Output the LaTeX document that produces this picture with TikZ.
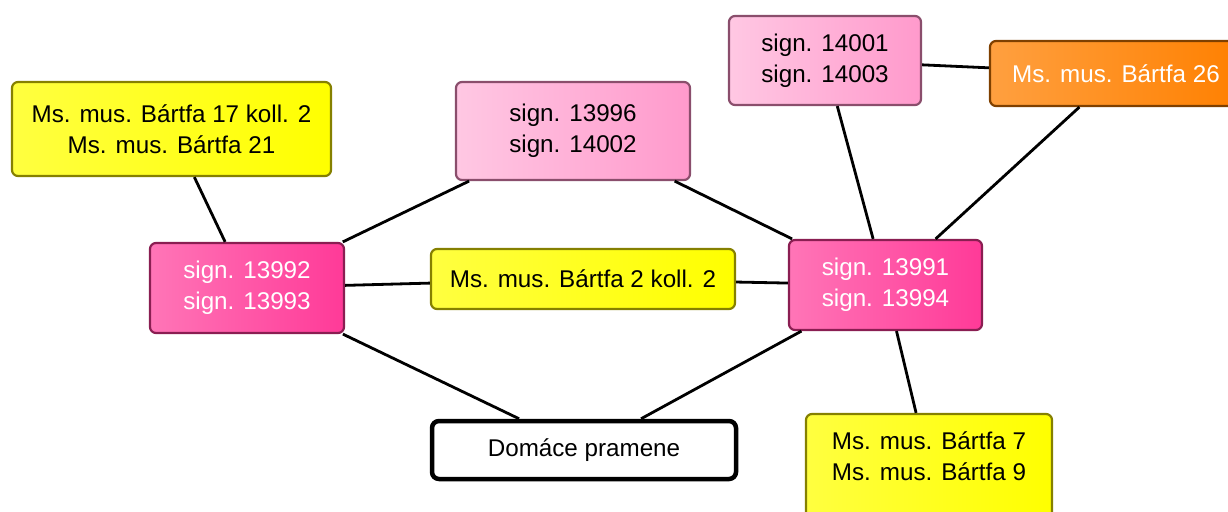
\documentclass[tikz,border=0pt]{standalone}
\usepackage{fontspec}
\setmainfont{Liberation Sans}
\definecolor{yelfill}{HTML}{FFFF00}
\definecolor{yelline}{HTML}{858000}
\definecolor{rosefill}{HTML}{FF9ACC}
\definecolor{roseline}{HTML}{8A4E6C}
\definecolor{hotfill}{HTML}{FF3A98}
\definecolor{hotline}{HTML}{8A1E52}
\definecolor{orfill}{HTML}{FF8000}
\definecolor{orline}{HTML}{7F4000}
\begin{document}
\begin{tikzpicture}[x=1pt, y=-1pt,
    box/.style={rectangle, rounded corners=6pt, align=center, line width=2.2pt,
       inner sep=0pt, font=\fontsize{24.2}{31}\selectfont},
    yelbox/.style={box, draw=yelline, left color=yelfill!75!white, right color=yelfill},
    rosebox/.style={box, draw=roseline, left color=rosefill!55!white, right color=rosefill},
    hotbox/.style={box, draw=hotline, left color=hotfill!70!white, right color=hotfill, text=white},
    orbox/.style={box, draw=orline, left color=orfill!75!white, right color=orfill, text=white},
    homebox/.style={box, draw=black, fill=white, line width=4.5pt, rounded corners=7pt},
    link/.style={line width=2.8pt, black}]
    \useasboundingbox (0,0) rectangle (1228,511);

    % Uzly
    \node[yelbox, minimum width=319pt, minimum height=94pt] (b17) at (171.5,129)
       {Ms. mus. Bártfa 17 koll. 2\\Ms. mus. Bártfa 21};
    \node[rosebox, minimum width=234pt, minimum height=98pt] (s13996) at (573,131)
       {sign. 13996\\sign. 14002};
    \node[rosebox, minimum width=192pt, minimum height=89pt] (s14001) at (825,60.5)
       {sign. 14001\\sign. 14003};
    \node[orbox, minimum width=252pt, minimum height=65pt] (b26) at (1116,73.5)
       {Ms. mus. Bártfa 26};
    \node[hotbox, minimum width=194pt, minimum height=90pt] (s13992) at (247,288)
       {sign. 13992\\sign. 13993};
    \node[yelbox, minimum width=304pt, minimum height=60pt] (b2) at (583,279)
       {Ms. mus. Bártfa 2 koll. 2};
    \node[hotbox, minimum width=193pt, minimum height=90pt] (s13991) at (885.5,285)
       {sign. 13991\\sign. 13994};
    \node[homebox, minimum width=304pt, minimum height=58pt] (home) at (584,450)
       {Domáce pramene};
    \node[yelbox, minimum width=246pt, minimum height=106pt] (b7) at (929,467)
       {Ms. mus. Bártfa 7\\Ms. mus. Bártfa 9\\[-9pt]\mbox{}};

    % Spojnice
    \draw[link] (b17) -- (s13992);
    \draw[link] (s13992) -- (s13996);
    \draw[link] (s13992) -- (b2);
    \draw[link] (s13992) -- (home);
    \draw[link] (s13996) -- (s13991);
    \draw[link] (b2) -- (s13991);
    \draw[link] (s13991) -- (home);
    \draw[link] (s14001) -- (s13991);
    \draw[link] (s14001) -- (b26);
    \draw[link] (b26) -- (s13991);
    \draw[link] (s13991) -- (b7);
\end{tikzpicture}
\end{document}
